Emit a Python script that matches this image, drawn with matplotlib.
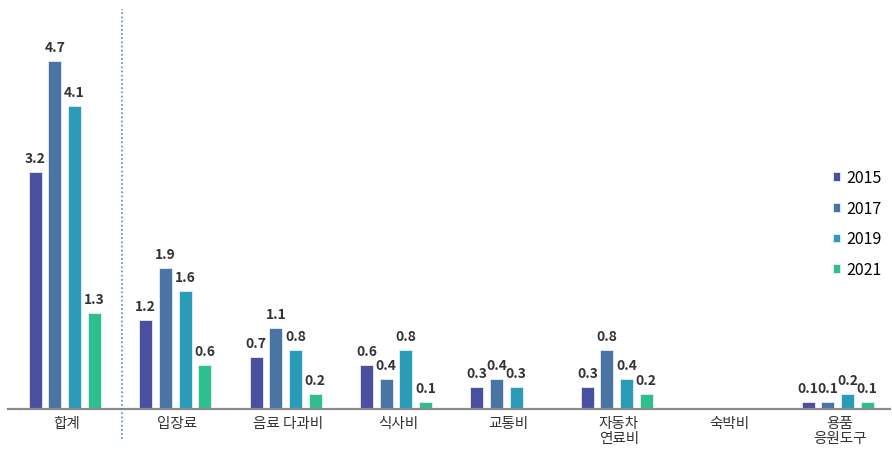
import matplotlib.pyplot as plt
import numpy as np

plt.rcParams['font.family'] = ['Noto Sans CJK KR', 'DejaVu Sans']

categories = ["합계", "입장료", "음료 다과비", "식사비", "교통비", "자동차\n연료비", "숙박비", "용품\n응원도구"]
years = ["2015", "2017", "2019", "2021"]
v2015 = [3.2, 1.2, 0.7, 0.6, 0.3, 0.3, None, 0.1]
v2017 = [4.7, 1.9, 1.1, 0.4, 0.4, 0.8, None, 0.1]
v2019 = [4.1, 1.6, 0.8, 0.8, 0.3, 0.4, None, 0.2]
v2021 = [1.3, 0.6, 0.2, 0.1, None, 0.2, None, 0.1]
colors = ["#4b4f9f", "#4a74a3", "#2a9cb8", "#2ebf8f"]

series = [v2015, v2017, v2019, v2021]

fig = plt.figure(figsize=(8.92, 4.56), dpi=100)
ax = fig.add_axes([8 / 892, 46 / 456, 882 / 892, 370 / 456])

unit = 110.4
ax.set_xlim(-(67 - 8) / unit, (890 - 67) / unit)
ax.set_ylim(0, 5.0)

x = np.arange(len(categories))
step = 0.178
width = 0.118
for i, (vals, col, yr) in enumerate(zip(series, colors, years)):
    off = (i - 1.5) * step - 0.02
    xs = [xx + off for xx, v in zip(x, vals) if v is not None]
    ys = [v for v in vals if v is not None]
    ax.bar(xs, ys, width=width, color=col, edgecolor="#e8eef6", linewidth=0.6, label=yr)
    for xx, v in zip(xs, ys):
        ax.annotate(f"{v:.1f}", (xx, v), xytext=(0, 5), textcoords="offset points",
                    ha="center", va="bottom", fontsize=10, fontweight="bold", color="#333333")

ax.axhline(0, color="#8a8a8a", linewidth=1.6, clip_on=False)
ax.axvline(0.5, ymin=-0.08, ymax=1.08, color="#4a8fd0", linestyle=(0, (1, 1.5)),
           linewidth=1.2, clip_on=False)

for xx, lab in zip(x, categories):
    ax.annotate(lab, (xx, 0), xytext=(0, -5), textcoords="offset points",
                ha="center", va="top", fontsize=10.5, color="#333333", linespacing=1.1)

for s in ax.spines.values():
    s.set_visible(False)
ax.set_xticks([])
ax.set_yticks([])

ax.legend(loc="upper left", bbox_to_anchor=(0.928, 0.665), frameon=False, fontsize=11.5,
          handlelength=0.45, handleheight=0.45, handletextpad=0.4, labelspacing=0.85,
          borderaxespad=0)

fig.savefig("out.png", dpi=100)
